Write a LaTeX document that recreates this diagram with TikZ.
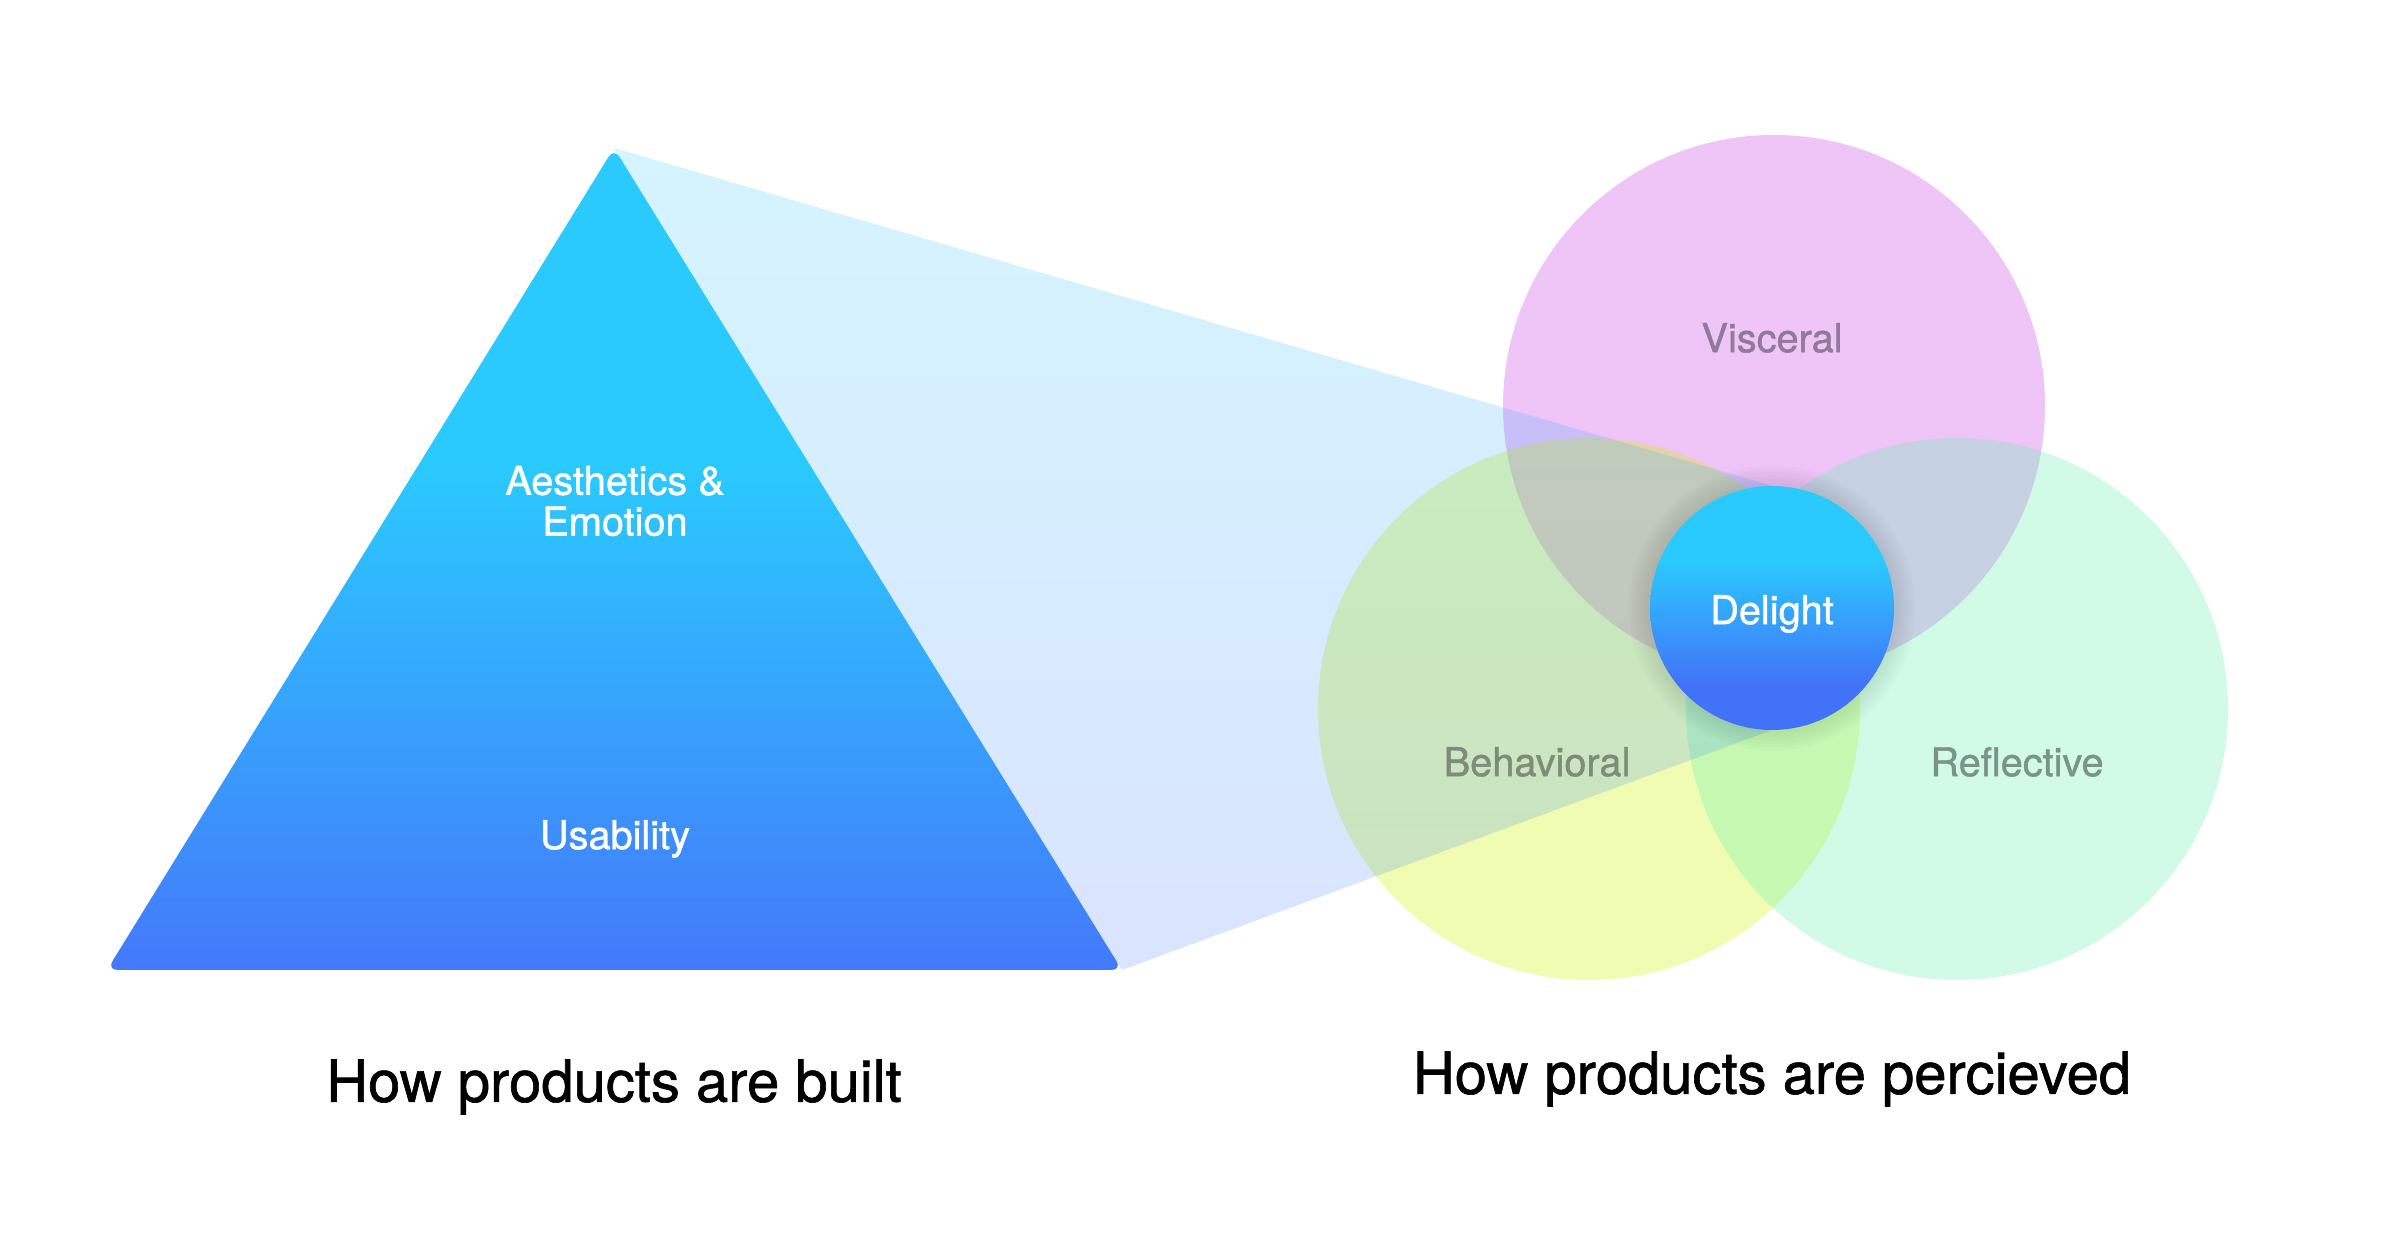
\documentclass[tikz,border=0pt]{standalone}
\usepackage{fontspec}
\setmainfont{TeX Gyre Heros}
\newfontfamily\heavier[FakeBold=1.1]{TeX Gyre Heros}
\usepackage{xcolor}
\usetikzlibrary{positioning}

\definecolor{skyTop}{RGB}{42,202,254}
\definecolor{skyBot}{RGB}{68,121,250}
\definecolor{coreBot}{RGB}{66,114,248}
\definecolor{viscBase}{RGB}{205,60,230}
\definecolor{behBase}{RGB}{205,248,0}
\definecolor{refBase}{RGB}{105,245,178}
\definecolor{viscText}{RGB}{143,122,153}
\definecolor{behText}{RGB}{126,140,122}
\definecolor{refText}{RGB}{122,148,136}

% cyan on top, turning blue in the lower part
\pgfdeclareverticalshading{skyfade}{100bp}{color(0bp)=(skyBot); color(25bp)=(skyBot); color(56bp)=(skyTop); color(100bp)=(skyTop)}
\pgfdeclareverticalshading{corefade}{100bp}{color(0bp)=(coreBot); color(34bp)=(coreBot); color(60bp)=(skyTop); color(100bp)=(skyTop)}

\tikzset{
  vennring/.style={circle, minimum size=5.42cm, inner sep=0pt, fill opacity=0.3},
  inlabel/.style={font=\heavier\fontsize{11.3}{11.6}\selectfont, align=center, inner sep=0pt},
  headline/.style={font=\heavier\fontsize{16.5}{18}\selectfont, inner sep=0pt}
}

\begin{document}
\begin{tikzpicture}
\useasboundingbox (0,0) rectangle (24,12.54);
\fill[white] (0,0) rectangle (24,12.54);
%
\coordinate (apex) at (6.14,11.06);
\coordinate (left) at (1.07,2.84);
\coordinate (right) at (11.22,2.84);
\coordinate (core) at (17.72,6.46);
%
% the pyramid
\shade[shading=skyfade, rounded corners=3pt] (apex) -- (right) -- (left) -- cycle;
%
% the three levels
\node[vennring, fill=viscBase] (visceral) at (17.74,8.48) {};
\node[vennring, fill=behBase] (behavioral) at (15.89,5.45) {};
\node[vennring, fill=refBase] (reflective) at (19.57,5.45) {};
%
% light band from the pyramid to the core
\shade[top color=skyTop, bottom color=skyBot, fill opacity=0.2]
  (apex) -- ([yshift=1.22cm]core) -- ([yshift=-1.22cm]core) -- (right) -- cycle;
%
% soft shadow and the core
\foreach \r in {1,...,6}
  \fill[black, fill opacity=0.017] (core) circle ({1.22+0.035*\r});
\shade[shading=corefade] (core) circle (1.22);
\node[inlabel, text=white] (delight) at ([yshift=-0.06cm]core) {Delight};
%
\node[inlabel, text=white] (aesthetics) at (6.15,7.53) {Aesthetics \&\\Emotion};
\node[inlabel, text=white] (usability) at (6.15,4.15) {Usability};
\node[inlabel, text=viscText] (visclabel) at (17.72,9.16) {Visceral};
\node[inlabel, text=behText] (behlabel) at (15.37,4.92) {Behavioral};
\node[inlabel, text=refText] (reflabel) at (20.17,4.92) {Reflective};
%
\node[headline] (built) at (6.14,1.67) {How products are built};
\node[headline] (percieved) at (17.72,1.75) {How products are percieved};
\end{tikzpicture}
\end{document}
